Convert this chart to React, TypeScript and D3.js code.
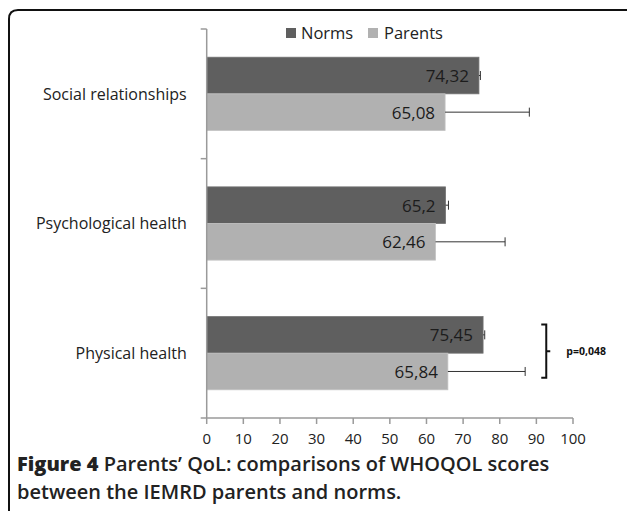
import React from "react";
import * as d3 from "d3";

const categories = ["Social relationships", "Psychological health", "Physical health"];
const seriesNames = ["Norms", "Parents"];
const normsValues = [74.32, 65.2, 75.45];
const parentsValues = [65.08, 62.46, 65.84];
const normsErrors = [0.4, 0.8, 0.45];
const parentsErrors = [23, 19, 21.1];
const valueLabels = [["74,32", "65,08"], ["65,2", "62,46"], ["75,45", "65,84"]];
const xTicks = [0, 10, 20, 30, 40, 50, 60, 70, 80, 90, 100];
const pValueText = "p=0,048";
const colors = ["#5f5f5f", "#b1b1b1"];

const W = 627;
const H = 511;
const FONT = "'Open Sans', 'DejaVu Sans', sans-serif";

export default function App() {
  const x = d3.scaleLinear().domain([0, 100]).range([206.7, 573]);
  const y = d3.scaleBand<string>().domain(categories).range([29, 418]);
  const inner = d3
    .scaleBand<string>()
    .domain(seriesNames)
    .range([0, y.bandwidth()])
    .paddingInner(0)
    .paddingOuter(0.77);

  const series = [
    { name: "Norms", values: normsValues, errors: normsErrors },
    { name: "Parents", values: parentsValues, errors: parentsErrors },
  ];

  const bh = inner.bandwidth();
  // bracket around the physical health pair
  const phy = categories[2];
  const brTop = (y(phy) as number) + (inner("Norms") as number) + 8;
  const brBot = (y(phy) as number) + (inner("Parents") as number) + bh - 12;
  const brX = x(92.7);

  const bandTicks = [...categories.map((c) => y(c) as number), y.range()[1]];

  return (
    <svg
      width={W}
      height={H}
      style={{ position: "absolute", left: 0, top: 0, background: "#fff" }}
      fontFamily={FONT}
    >
      {/* frame */}
      <path
        d={`M9,${H + 5} L9,19 Q9,10 18,10 L${W + 5},10`}
        fill="none"
        stroke="#111"
        strokeWidth={2}
      />

      {/* legend */}
      <g transform="translate(286,28)">
        <rect x={0} y={0} width={10} height={10} fill={colors[0]} />
        <text x={15} y={11} fontSize={16.5} fill="#222">Norms</text>
        <rect x={82} y={0} width={10} height={10} fill={colors[1]} />
        <text x={98} y={11} fontSize={16.5} fill="#222">Parents</text>
      </g>

      {/* bars */}
      {series.map((s, si) =>
        categories.map((c, ci) => {
          const y0 = (y(c) as number) + (inner(s.name) as number);
          const xe = x(s.values[ci]);
          const xErr = x(s.values[ci] + s.errors[ci]);
          const cy = y0 + bh / 2;
          return (
            <g key={s.name + c}>
              <rect
                x={x(0)}
                y={y0}
                width={xe - x(0)}
                height={bh}
                fill={colors[si]}
                stroke={si === 0 ? "#737373" : "#c2c2c2"}
                strokeWidth={0.8}
              />
              <line x1={xe} x2={xErr} y1={cy} y2={cy} stroke="#333" strokeWidth={1} />
              <line x1={xErr} x2={xErr} y1={cy - 4.5} y2={cy + 4.5} stroke="#333" strokeWidth={1} />
              <text
                x={xe - 10}
                y={cy}
                dy="0.38em"
                textAnchor="end"
                fontSize={17}
                fill="#1c1c1c"
              >
                {valueLabels[ci][si]}
              </text>
            </g>
          );
        })
      )}

      {/* category axis */}
      <line x1={x(0)} x2={x(0)} y1={y.range()[0]} y2={y.range()[1]} stroke="#9a9a9a" strokeWidth={1.5} />
      {bandTicks.map((t, i) => (
        <line key={i} x1={x(0) - 6} x2={x(0)} y1={t} y2={t} stroke="#9a9a9a" strokeWidth={1.5} />
      ))}
      {categories.map((c) => (
        <text
          key={c}
          x={x(0) - 20}
          y={(y(c) as number) + y.bandwidth() / 2}
          dy="0.36em"
          textAnchor="end"
          fontSize={16}
          fill="#222"
        >
          {c}
        </text>
      ))}

      {/* value axis */}
      <line x1={x(0)} x2={x(100)} y1={y.range()[1]} y2={y.range()[1]} stroke="#9a9a9a" strokeWidth={1.5} />
      {xTicks.map((t) => (
        <g key={t}>
          <line x1={x(t)} x2={x(t)} y1={y.range()[1]} y2={y.range()[1] + 6} stroke="#9a9a9a" strokeWidth={1.5} />
          <text x={x(t)} y={y.range()[1] + 26} textAnchor="middle" fontSize={15} fill="#222">
            {t}
          </text>
        </g>
      ))}

      {/* significance bracket */}
      <path
        d={`M${brX - 5},${brTop} L${brX},${brTop} L${brX},${brBot} L${brX - 5},${brBot} M${brX},${(brTop + brBot) / 2} L${brX + 4},${(brTop + brBot) / 2}`}
        fill="none"
        stroke="#111"
        strokeWidth={2}
      />
      <text x={brX + 20} y={(brTop + brBot) / 2} dy="0.36em" fontSize={10.5} fontWeight={700} fill="#111">
        {pValueText}
      </text>

      {/* caption */}
      <text x={17} y={471} fontSize={20} fontWeight={600} fill="#222">
        <tspan fontWeight={800}>Figure 4</tspan> Parents’ QoL: comparisons of WHOQOL scores
      </text>
      <text x={17} y={499} fontSize={20} fontWeight={600} fill="#222">
        between the IEMRD parents and norms.
      </text>
    </svg>
  );
}
